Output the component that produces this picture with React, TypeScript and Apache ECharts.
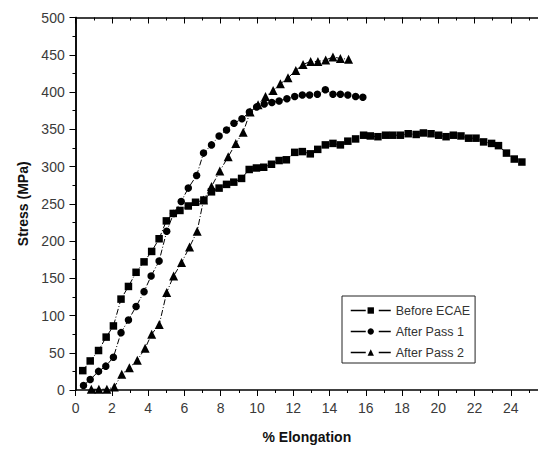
import React, { useEffect, useRef } from "react";
import * as echarts from "echarts";

const seriesNames = ["Before ECAE", "After Pass 1", "After Pass 2"];

const beforeEcae: [number, number][] = [
  [0.39, 26], [0.8, 39], [1.26, 53], [1.68, 71], [2.08, 86], [2.5, 122], [2.91, 139],
  [3.33, 158], [3.77, 172], [4.19, 186], [4.6, 203], [5.0, 227], [5.38, 237], [5.75, 241],
  [6.21, 247], [6.61, 252], [7.07, 255], [7.49, 266], [7.91, 271], [8.32, 276], [8.72, 279],
  [9.15, 284], [9.57, 296], [9.97, 298], [10.37, 299], [10.8, 303], [11.22, 308], [11.62, 309],
  [12.08, 319], [12.5, 320], [12.94, 317], [13.35, 323], [13.77, 329], [14.19, 331], [14.6, 329],
  [15.01, 334], [15.44, 337], [15.88, 342], [16.25, 341], [16.67, 340], [17.09, 342], [17.49, 342],
  [17.91, 342], [18.34, 344], [18.78, 343], [19.18, 345], [19.6, 344], [20.02, 342], [20.43, 340],
  [20.83, 342], [21.25, 341], [21.67, 338], [22.08, 338], [22.5, 333], [22.94, 331], [23.32, 328],
  [23.76, 318], [24.19, 310], [24.61, 306],
];

const afterPass1: [number, number][] = [
  [0.43, 6], [0.8, 14], [1.26, 25], [1.66, 32], [2.08, 44], [2.5, 77], [2.91, 94], [3.33, 112],
  [3.77, 132], [4.16, 153], [4.6, 173], [5.02, 213], [5.4, 237], [5.82, 253], [6.21, 271],
  [6.67, 288], [7.05, 318], [7.49, 329], [7.91, 341], [8.32, 349], [8.73, 358], [9.17, 364],
  [9.58, 373], [9.98, 380], [10.4, 384], [10.82, 386], [11.22, 388], [11.65, 391], [12.08, 394],
  [12.5, 396], [12.9, 396], [13.33, 397], [13.77, 403], [14.19, 397], [14.6, 397], [15.01, 396],
  [15.44, 394], [15.84, 393],
];

const afterPass2: [number, number][] = [
  [0.86, 1], [1.28, 1], [1.72, 1], [2.13, 4], [2.54, 21], [2.96, 30], [3.4, 40], [3.83, 56],
  [4.19, 75], [4.61, 88], [5.02, 131], [5.4, 153], [5.84, 171], [6.28, 192], [6.7, 213],
  [7.05, 255], [7.49, 273], [7.95, 294], [8.41, 313], [8.83, 331], [9.24, 346], [9.62, 373],
  [10.06, 383], [10.47, 394], [10.89, 402], [11.29, 411], [11.71, 419], [12.14, 429], [12.54, 437],
  [12.96, 441], [13.36, 441], [13.79, 443], [14.19, 447], [14.6, 445], [15.05, 444],
];

const X_MIN = 0;
const X_MAX = 25.5;
const X_MAJOR = 2;
const X_MINOR = 1;
const Y_MIN = 0;
const Y_MAX = 500;
const Y_MAJOR = 50;

export default function App() {
  const ref = useRef<HTMLDivElement>(null);
  useEffect(() => {
    const chart = echarts.init(ref.current!, null, { renderer: "svg" });
    const font = 'Arial, "Liberation Sans", sans-serif';
    const axisLine = { show: true, lineStyle: { color: "#000", width: 1.5 } };
    const lineStyle = { color: "#000", width: 1, type: [6, 2, 1, 2] as any };
    const xBase = { type: "value", min: X_MIN, max: X_MAX, splitLine: { show: false } };
    const yBase = { type: "value", min: Y_MIN, max: Y_MAX, interval: Y_MAJOR, splitLine: { show: false } };
    chart.setOption({
      animation: false,
      textStyle: { fontFamily: font },
      grid: { left: 75.7, top: 17.5, right: -1, bottom: 56.7, containLabel: false },
      legend: {
        orient: "vertical",
        left: 342,
        top: 296,
        data: seriesNames,
        itemWidth: 40,
        itemHeight: 8,
        itemGap: 8,
        padding: [8, 5, 4, 8],
        borderColor: "#222",
        borderWidth: 1,
        lineStyle: { type: [15, 13] as any, width: 1.5, color: "#000" },
        textStyle: { fontSize: 12.5, color: "#333", fontFamily: font },
      },
      xAxis: [
        {
          ...xBase,
          position: "bottom",
          interval: X_MAJOR,
          axisLine,
          axisTick: { show: true, inside: false, length: 6, lineStyle: { color: "#000", width: 1 } },
          axisLabel: { fontSize: 14, color: "#3a3a3a", margin: 11, showMaxLabel: false, fontFamily: font },
          name: "% Elongation",
          nameLocation: "middle",
          nameGap: 40,
          nameTextStyle: { fontSize: 14, fontWeight: "bold", color: "#111", fontFamily: font },
        },
        {
          ...xBase,
          position: "bottom",
          interval: X_MINOR,
          axisLine: { show: false },
          axisTick: { show: true, inside: false, length: 3, lineStyle: { color: "#000", width: 1 } },
          axisLabel: { show: false },
        },
        {
          ...xBase,
          position: "top",
          interval: X_MAJOR,
          axisLine,
          axisTick: { show: true, inside: true, length: 6, lineStyle: { color: "#000", width: 1 } },
          axisLabel: { show: false },
        },
        {
          ...xBase,
          position: "top",
          interval: X_MINOR,
          axisLine: { show: false },
          axisTick: { show: true, inside: true, length: 3, lineStyle: { color: "#000", width: 1 } },
          axisLabel: { show: false },
        },
      ],
      yAxis: [
        {
          ...yBase,
          position: "left",
          axisLine,
          axisTick: { show: true, inside: false, length: 6, lineStyle: { color: "#000", width: 1 } },
          minorTick: { show: true, splitNumber: 2, length: 3, lineStyle: { color: "#000", width: 1 } },
          axisLabel: { fontSize: 14, color: "#3a3a3a", margin: 11, fontFamily: font },
          name: "Stress (MPa)",
          nameLocation: "middle",
          nameGap: 46,
          nameTextStyle: { fontSize: 14, fontWeight: "bold", color: "#111", fontFamily: font },
        },
        {
          ...yBase,
          position: "right",
          axisLine,
          axisTick: { show: true, inside: true, length: 6, lineStyle: { color: "#000", width: 1 } },
          minorTick: { show: true, splitNumber: 2, length: 3, lineStyle: { color: "#000", width: 1 } },
          axisLabel: { show: false },
        },
      ],
      series: [
        {
          name: seriesNames[0],
          type: "line",
          data: beforeEcae,
          symbol: "rect",
          symbolSize: 7.5,
          lineStyle,
          itemStyle: { color: "#000" },
          xAxisIndex: 0,
          yAxisIndex: 0,
        },
        {
          name: seriesNames[1],
          type: "line",
          data: afterPass1,
          symbol: "circle",
          symbolSize: 7.5,
          lineStyle,
          itemStyle: { color: "#000" },
          xAxisIndex: 0,
          yAxisIndex: 0,
        },
        {
          name: seriesNames[2],
          type: "line",
          data: afterPass2,
          symbol: "triangle",
          symbolSize: 9,
          lineStyle,
          itemStyle: { color: "#000" },
          xAxisIndex: 0,
          yAxisIndex: 0,
        },
      ],
    });
    return () => chart.dispose();
  }, []);
  return (
    <div
      ref={ref}
      style={{ position: "fixed", left: 0, top: 0, width: 538, height: 449, background: "#fff" }}
    />
  );
}
